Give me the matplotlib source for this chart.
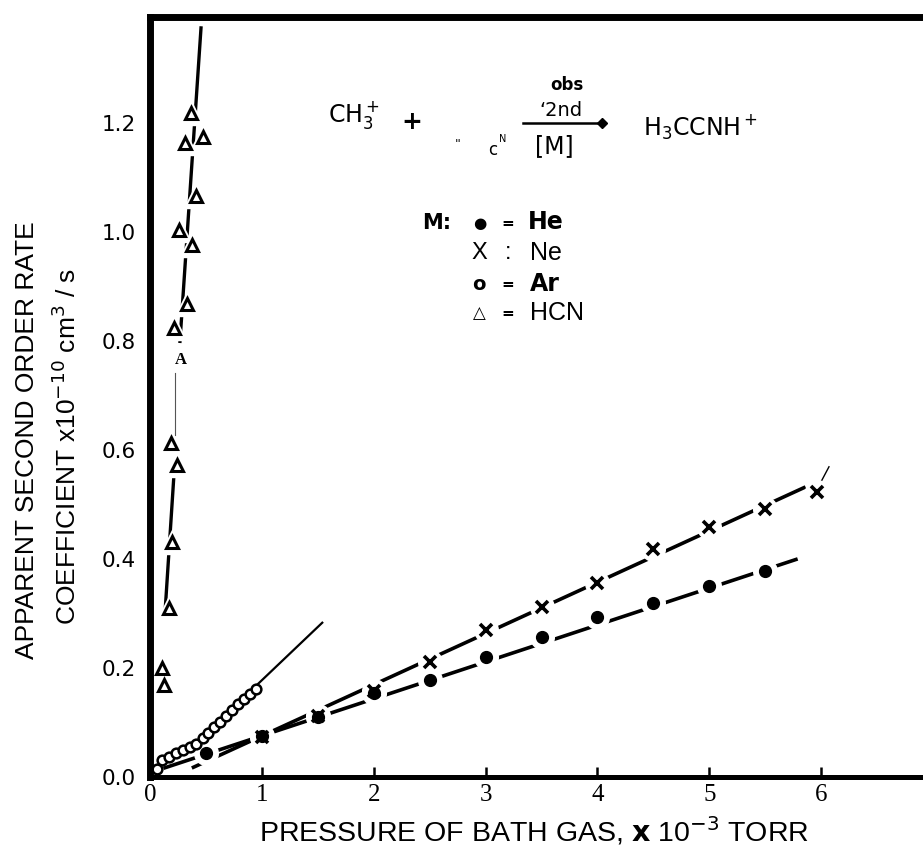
import matplotlib
matplotlib.use("Agg")
import matplotlib.pyplot as plt

plt.rcParams['mathtext.fontset'] = 'dejavusans'

# pressure of bath gas (x 1e-3 torr) and apparent 2nd order rate (x 1e-10 cm3/s)
he_p = [0.5, 1.0, 1.5, 2.0, 2.5, 3.0, 3.5, 4.0, 4.5, 5.0, 5.5]
he_k = [0.044, 0.075, 0.110, 0.154, 0.178, 0.220, 0.257, 0.294, 0.319, 0.350, 0.378]
he_fit_p = [0.12, 5.79]
he_fit_k = [0.016, 0.400]

ne_p = [1.0, 1.5, 2.0, 2.5, 3.0, 3.5, 4.0, 4.5, 5.0, 5.5, 5.96]
ne_k = [0.074, 0.112, 0.157, 0.211, 0.270, 0.312, 0.356, 0.418, 0.459, 0.492, 0.523]
ne_fit_p = [0.374, 5.86]
ne_fit_k = [0.0165, 0.532]
ne_tail_p = [5.99, 6.07]
ne_tail_k = [0.538, 0.569]

ar_p = [0.06, 0.107, 0.169, 0.232, 0.294, 0.357, 0.410, 0.472, 0.517, 0.570,
        0.624, 0.677, 0.731, 0.784, 0.838, 0.891, 0.945]
ar_k = [0.015, 0.031, 0.037, 0.044, 0.050, 0.055, 0.061, 0.072, 0.081, 0.092,
        0.101, 0.112, 0.123, 0.134, 0.143, 0.152, 0.161]
ar_fit_p = [0.45, 1.54]
ar_fit_k = [0.070, 0.283]

hcn_p = [0.365, 0.312, 0.472, 0.410, 0.258, 0.374, 0.330, 0.214, 0.187, 0.241,
         0.196, 0.169, 0.107, 0.125]
hcn_k = [1.218, 1.163, 1.174, 1.066, 1.004, 0.976, 0.868, 0.824, 0.613, 0.572,
         0.431, 0.310, 0.200, 0.169]
hcn_fit_hi_p = [0.267, 0.457]
hcn_fit_hi_k = [0.796, 1.377]
hcn_fit_lo_p = [0.134, 0.214]
hcn_fit_lo_k = [0.301, 0.554]
hcn_a_p = [0.223, 0.223]
hcn_a_k = [0.741, 0.627]

xticks = [0, 1, 2, 3, 4, 5, 6]
yticks = [0.0, 0.2, 0.4, 0.6, 0.8, 1.0, 1.2]
ytick_labels = ["0.0", "0.2", "0.4", "0.6", "0.8", "1.0", "1.2"]

W, H = 923, 850
fig = plt.figure(figsize=(W / 100, H / 100), dpi=100)
ax = fig.add_axes([150 / W, 1 - 777 / H, (933 - 150) / W, (777 - 17) / H])
ax.set_xlim(0.018, 7.0)
ax.set_ylim(0.0, 1.394)

# fitted lines
ax.plot(he_fit_p, he_fit_k, color='black', lw=2.6, solid_capstyle='butt', zorder=2)
ax.plot(ne_fit_p, ne_fit_k, color='black', lw=2.6, solid_capstyle='butt', zorder=2)
ax.plot(ne_tail_p, ne_tail_k, color='black', lw=1.0, zorder=2)
ax.plot(ar_fit_p, ar_fit_k, color='black', lw=1.6, zorder=2)
ax.plot(hcn_fit_hi_p, hcn_fit_hi_k, color='black', lw=2.4, solid_capstyle='butt', zorder=2)
ax.plot(hcn_fit_lo_p, hcn_fit_lo_k, color='black', lw=2.4, solid_capstyle='butt', zorder=2)
ax.plot(hcn_a_p, hcn_a_k, color='#555555', lw=0.8, zorder=2)

# white clearings round the points, as on the hand drawn original
ax.plot(he_p, he_k, 'o', color='white', ms=17, zorder=3)
ax.plot(ne_p, ne_k, 'o', color='white', ms=17, zorder=3)
ax.plot(hcn_p, hcn_k, '^', color='white', ms=17, zorder=3)

ax.plot(he_p, he_k, 'o', color='black', ms=8.5, zorder=4)
ax.plot(ne_p, ne_k, 'x', color='black', ms=9, mew=2.6, zorder=4)
ax.plot(ar_p, ar_k, 'o', mfc='white', mec='black', ms=7, mew=1.8, zorder=5)
ax.plot(hcn_p, hcn_k, '^', mfc='white', mec='black', ms=9, mew=2.2, zorder=5)
ax.text(0.276, 0.765, "A", fontsize=12, fontweight='bold', family='Liberation Serif',
        ha='center', va='center')

ax.spines['right'].set_visible(False)
ax.spines['left'].set_linewidth(5)
ax.spines['top'].set_linewidth(5)
ax.spines['bottom'].set_linewidth(3.6)
for s in ['left', 'top', 'bottom']:
    ax.spines[s].set_zorder(10)

ax.set_xticks(xticks)
ax.set_xticklabels([str(t) for t in xticks], family='Liberation Serif', fontsize=18)
ax.tick_params(axis='x', direction='in', length=7, width=1.8, pad=5)
ax.set_yticks(yticks)
ax.set_yticklabels(ytick_labels, family='DejaVu Sans', fontsize=15.5)
ax.tick_params(axis='y', length=0, pad=10)


def ft(x, y, s, **kw):
    kw.setdefault('ha', 'center')
    kw.setdefault('va', 'center')
    fig.text(x / W, 1 - y / H, s, **kw)


narrow = ['Liberation Sans Narrow', 'Liberation Sans']

# axis titles
ft(27, 440, "APPARENT SECOND ORDER RATE", rotation=90, fontsize=19, family=narrow)
ft(67, 446, r"COEFFICIENT x10$^{-10}$ cm$^3$ / s", rotation=90, fontsize=19, family=narrow)
ft(534, 831, r"PRESSURE OF BATH GAS, $\mathbf{x}$ 10$^{-3}$ TORR", fontsize=20.5, family=narrow)

# reaction
ft(328, 115, r"CH$_3^+$", ha='left', fontsize=17)
ft(412, 122, "+", fontsize=18, fontweight='bold')
ft(458, 145, '"', fontsize=9)
ft(493, 150, "c", fontsize=12)
ft(503, 139, "N", fontsize=7)
ft(567, 85, "obs", fontsize=12, fontweight='bold')
ft(561, 110, "\u20182nd", fontsize=14)
fig.add_artist(plt.Line2D([523 / W, 600 / W], [1 - 123 / H, 1 - 123 / H],
                          color='black', lw=1.8))
fig.add_artist(plt.Line2D([602 / W], [1 - 123 / H], marker='D', ms=5, color='black'))
ft(554, 146, "[M]", fontsize=17)
ft(643, 127, r"H$_3$CCNH$^+$", ha='left', fontsize=17)

# key
ft(437, 223, "M:", fontsize=15, fontweight='bold')
ft(480, 223, "\u25cf", fontsize=11)
ft(508, 224, "=", fontsize=11, fontweight='bold')
ft(528, 222, "He", ha='left', fontsize=17, fontweight='bold')
ft(479, 253, "X", fontsize=17, family=narrow)
ft(508, 253, ":", fontsize=17, family=narrow)
ft(530, 253, "Ne", ha='left', fontsize=18, family=narrow)
ft(479, 284, "o", fontsize=14, fontweight='bold')
ft(508, 285, "=", fontsize=11, fontweight='bold')
ft(530, 284, "Ar", ha='left', fontsize=17, fontweight='bold')
ft(479, 313, "\u25b3", fontsize=12, fontweight='bold')
ft(508, 314, "=", fontsize=11, fontweight='bold')
ft(530, 313, "HCN", ha='left', fontsize=18, family=narrow)

fig.savefig("out.png", dpi=100)
